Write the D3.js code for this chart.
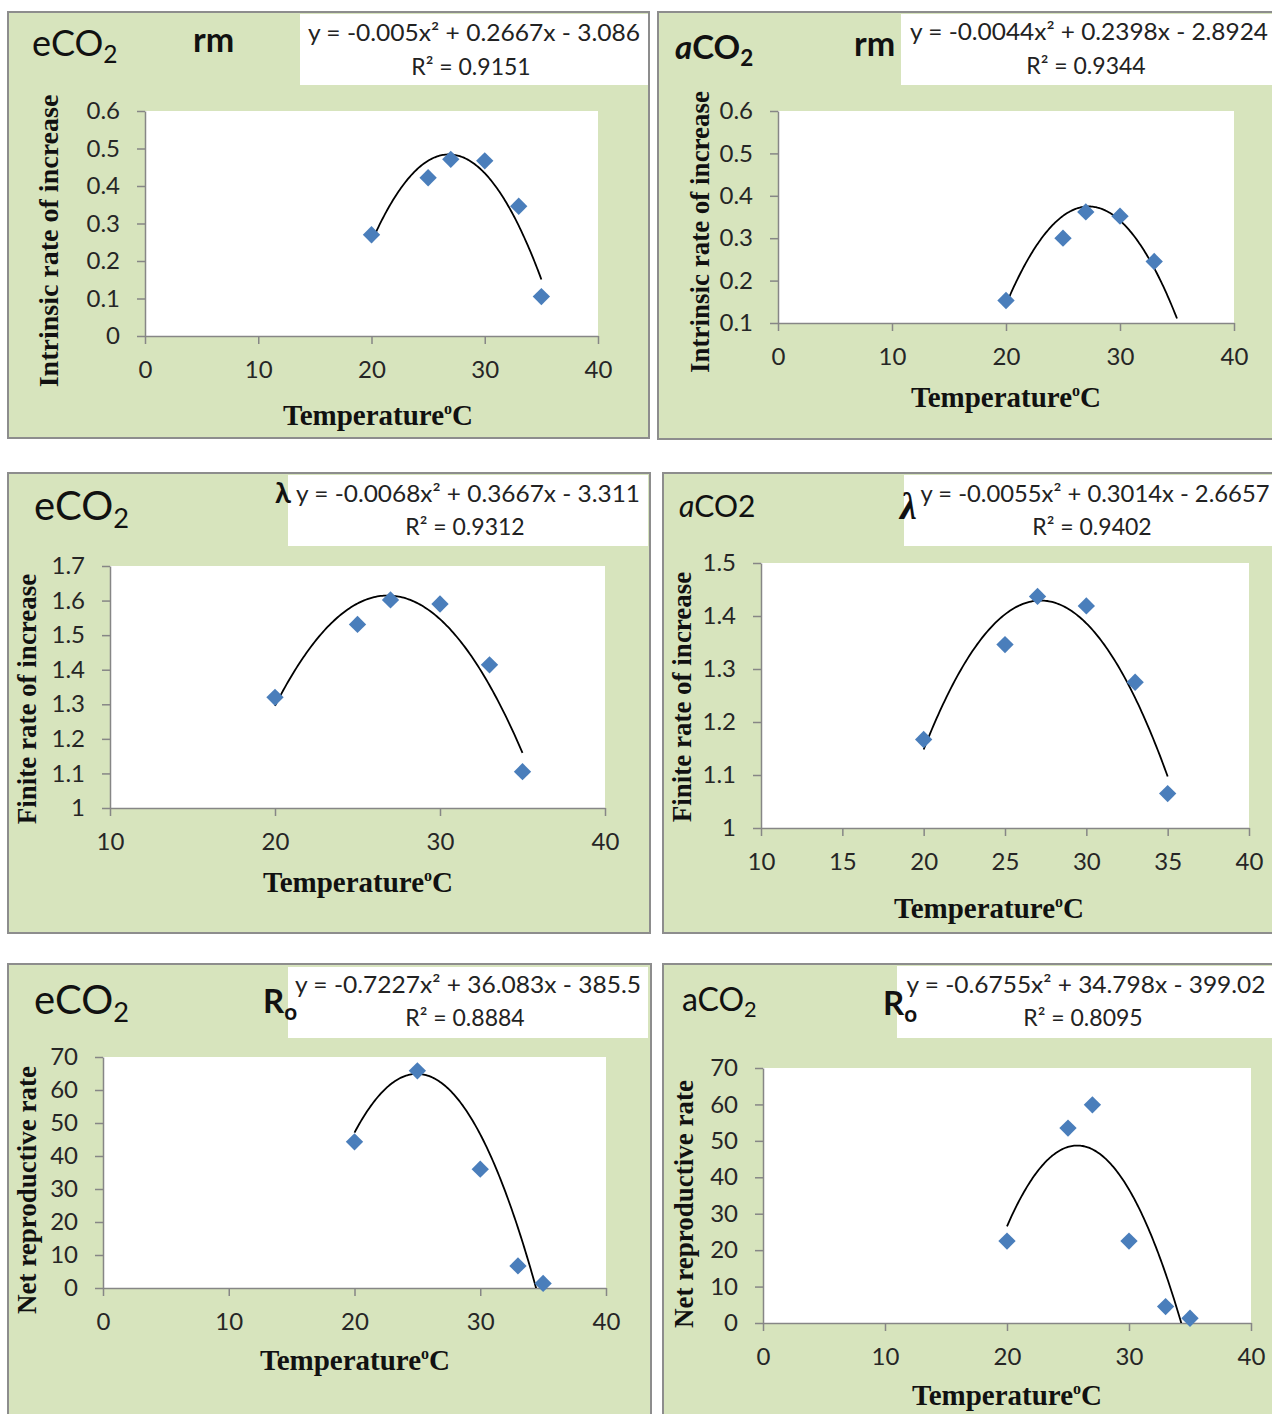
<!DOCTYPE html>
<html>
<head>
<meta charset="utf-8">
<script src="https://cdn.jsdelivr.net/npm/d3@7"></script>
<style>
	body { margin: 0; background: #fff; }
	svg { display: block; }
	.tick text { font-family: Lato, "Open Sans", sans-serif; font-size: 24px; fill: #262626; }
	.axis path, .axis line { stroke: #868686; stroke-width: 1.5; }
</style>
</head>
<body>
<svg id="fig" width="1272" height="1414"></svg>
<script>

// Temperatures (°C) at which each series was measured
const temperature = [20, 25, 27, 30, 33, 35];
const temperature_rm_aCO2 = [20, 25, 27, 30, 33];
const temperature_ro_eCO2 = [20, 25, 30, 33, 35];

const rm_eCO2 = [0.27, 0.422, 0.471, 0.467, 0.346, 0.105];
const rm_aCO2 = [0.153, 0.30, 0.362, 0.352, 0.245];
const lambda_eCO2 = [1.32, 1.531, 1.602, 1.59, 1.414, 1.105];
const lambda_aCO2 = [1.167, 1.346, 1.437, 1.419, 1.275, 1.065];
const ro_eCO2 = [44.3, 65.8, 36.0, 6.7, 1.4];
const ro_aCO2 = [22.5, 53.5, 59.9, 22.5, 4.5, 1.3];

// Polynomial trendlines as printed on the chart: [a, b, c] for ax² + bx + c
const trend_rm_eCO2 = [-0.005, 0.2667, -3.086];
const trend_rm_aCO2 = [-0.0044, 0.2398, -2.8924];
const trend_lambda_eCO2 = [-0.0068, 0.3667, -3.311];
const trend_lambda_aCO2 = [-0.0055, 0.3014, -2.6657];
const trend_ro_eCO2 = [-0.7227, 36.083, -385.5];
const trend_ro_aCO2 = [-0.6755, 34.798, -399.02];
const trend_range = [20, 35];

const r2_rm_eCO2 = "0.9151";
const r2_rm_aCO2 = "0.9344";
const r2_lambda_eCO2 = "0.9312";
const r2_lambda_aCO2 = "0.9402";
const r2_ro_eCO2 = "0.8884";
const r2_ro_aCO2 = "0.8095";

// Tick labels
const xTicks_0_40 = [0, 10, 20, 30, 40];
const xTicks_10_40 = [10, 20, 30, 40];
const xTicks_10_40_by5 = [10, 15, 20, 25, 30, 35, 40];
const yTicks_rm_eCO2 = [0, 0.1, 0.2, 0.3, 0.4, 0.5, 0.6];
const yTicks_rm_aCO2 = [0.1, 0.2, 0.3, 0.4, 0.5, 0.6];
const yTicks_lambda_eCO2 = [1, 1.1, 1.2, 1.3, 1.4, 1.5, 1.6, 1.7];
const yTicks_lambda_aCO2 = [1, 1.1, 1.2, 1.3, 1.4, 1.5];
const yTicks_ro = [0, 10, 20, 30, 40, 50, 60, 70];

const xTitle = "Temperature";
const yTitle_rm = "Intrinsic rate of increase";
const yTitle_lambda = "Finite rate of increase";
const yTitle_ro = "Net reproductive rate";


// layout of the six panels (pixel boxes measured on the reference)
// printedFit: draw the curve from the printed equation instead of refitting the
// visible points (those two fits used a sixth point that is not visible on the chart)
const panels = [
	{
		border: [8, 12, 641, 426], eqBox: [300, 14, 348, 71], eqX: 474, eqY: [41, 75], eqW: 332,
		plot: [145, 111, 598, 336], xTicks: xTicks_0_40, yTicks: yTicks_rm_eCO2,
		xs: temperature, ys: rm_eCO2, trend: trend_rm_eCO2, r2: r2_rm_eCO2,
		title: { x: 32, y: 56, size: 36, weight: 400, parts: [["e"], ["CO"], ["2", "sub"]] },
		mark: { x: 193, y: 52, size: 34, parts: [["rm"]] },
		yTitle: yTitle_rm, ySize: 28, yPos: [48, 241], xPos: [378, 425]
	},
	{
		border: [658, 12, 640, 427], eqBox: [901, 14, 380, 71], eqX: 1089, eqY: [40, 74], eqW: 358,
		plot: [778, 111, 1234, 323], xTicks: xTicks_0_40, yTicks: yTicks_rm_aCO2,
		xs: temperature_rm_aCO2, ys: rm_aCO2, trend: trend_rm_aCO2, r2: r2_rm_aCO2, printedFit: true,
		title: { x: 675, y: 59, size: 33, weight: 700, parts: [["a", "it"], ["CO"], ["2", "sub"]] },
		mark: { x: 854, y: 56, size: 34, parts: [["rm"]] },
		yTitle: yTitle_rm, ySize: 27, yPos: [700, 232], xPos: [1006, 407]
	},
	{
		border: [8, 473, 642, 460], eqBox: [288, 475, 360, 71], eqX: 468, eqY: [502, 535], eqW: 344,
		plot: [110, 566, 605, 808], xTicks: xTicks_10_40, yTicks: yTicks_lambda_eCO2,
		xs: temperature, ys: lambda_eCO2, trend: trend_lambda_eCO2, r2: r2_lambda_eCO2,
		title: { x: 34, y: 520, size: 40, weight: 400, parts: [["e"], ["CO"], ["2", "sub"]] },
		mark: { x: 275, y: 503, size: 29, parts: [["λ"]] },
		yTitle: yTitle_lambda, ySize: 27, yPos: [27, 699], xPos: [358, 892]
	},
	{
		border: [663, 473, 640, 460], eqBox: [904, 475, 376, 71], eqX: 1095, eqY: [502, 535], eqW: 349,
		plot: [761, 563, 1249, 828], xTicks: xTicks_10_40_by5, yTicks: yTicks_lambda_aCO2,
		xs: temperature, ys: lambda_aCO2, trend: trend_lambda_aCO2, r2: r2_lambda_aCO2,
		title: { x: 679, y: 517, size: 30, weight: 400, parts: [["a", "it"], ["CO2"]] },
		mark: { x: 900, y: 519, size: 38, parts: [["λ", "it"]] },
		yTitle: yTitle_lambda, ySize: 27, yPos: [682, 697], xPos: [989, 918]
	},
	{
		border: [8, 964, 643, 470], eqBox: [288, 967, 360, 71], eqX: 468, eqY: [993, 1026], eqW: 346,
		plot: [103, 1057, 606, 1288], xTicks: xTicks_0_40, yTicks: yTicks_ro,
		xs: temperature_ro_eCO2, ys: ro_eCO2, trend: trend_ro_eCO2, r2: r2_ro_eCO2, printedFit: true,
		title: { x: 34, y: 1014, size: 40, weight: 400, parts: [["e"], ["CO"], ["2", "sub"]] },
		mark: { x: 263, y: 1013, size: 33, parts: [["R"], ["o", "sub"]] },
		yTitle: yTitle_ro, ySize: 27, yPos: [27, 1190], xPos: [355, 1370]
	},
	{
		border: [663, 964, 640, 470], eqBox: [897, 966, 380, 72], eqX: 1086, eqY: [993, 1026], eqW: 359,
		plot: [763, 1068, 1251, 1323], xTicks: xTicks_0_40, yTicks: yTicks_ro,
		xs: temperature, ys: ro_aCO2, trend: trend_ro_aCO2, r2: r2_ro_aCO2,
		title: { x: 682, y: 1011, size: 32, weight: 400, parts: [["a"], ["CO"], ["2", "sub"]] },
		mark: { x: 883, y: 1015, size: 33, parts: [["R"], ["o", "sub"]] },
		yTitle: yTitle_ro, ySize: 27, yPos: [684, 1204], xPos: [1007, 1405]
	}
];

const svg = d3.select("#fig");
const sansFont = 'Lato, "Open Sans", sans-serif';
const serifFont = '"Liberation Serif", "Times New Roman", serif';

function equationText(c) {
	const [a, b, k] = c;
	return `y = ${a}x² + ${b}x ${k < 0 ? "-" : "+"} ${Math.abs(k)}`;
}

/*
	Least squares fit of y = a x² + b x + c (what the spreadsheet trendline does).
	Solves the 3x3 normal equations by Gaussian elimination, returns [a, b, c].
*/
function quadFit(xs, ys) {
	const S = [0, 0, 0, 0, 0];
	const T = [0, 0, 0];
	xs.forEach((xv, i) => {
		for (let k = 0; k < 5; k++) S[k] += Math.pow(xv, k);
		for (let k = 0; k < 3; k++) T[k] += ys[i] * Math.pow(xv, k);
	});
	const M = [
		[S[4], S[3], S[2], T[2]],
		[S[3], S[2], S[1], T[1]],
		[S[2], S[1], S[0], T[0]]
	];
	for (let col = 0; col < 3; col++) {
		for (let row = col + 1; row < 3; row++) {
			const f = M[row][col] / M[col][col];
			for (let k = col; k < 4; k++) M[row][k] -= f * M[col][k];
		}
	}
	const sol = [0, 0, 0];
	for (let row = 2; row >= 0; row--) {
		let s = M[row][3];
		for (let k = row + 1; k < 3; k++) s -= M[row][k] * sol[k];
		sol[row] = s / M[row][row];
	}
	return sol;
}

// text made of pieces, some in italic or as subscript
function richText(g, spec, weight, family) {
	const t = g.append("text")
		.attr("x", spec.x).attr("y", spec.y)
		.attr("font-family", family)
		.attr("font-size", spec.size)
		.attr("font-weight", weight)
		.attr("fill", "#111");
	spec.parts.forEach(([s, style]) => {
		const ts = t.append("tspan").text(s);
		if (style === "it") ts.attr("font-style", "italic");
		if (style === "sub") {
			ts.attr("font-size", spec.size * 0.68).attr("dy", spec.size * 0.2);
		}
	});
	return t;
}

panels.forEach((p, i) => {
	const g = svg.append("g");
	const [l, t, r, b] = p.plot;

	// chart area
	g.append("rect")
		.attr("x", p.border[0]).attr("y", p.border[1])
		.attr("width", p.border[2]).attr("height", p.border[3])
		.attr("fill", "#d7e4bd").attr("stroke", "#8d8d8d").attr("stroke-width", 2);

	g.append("rect")
		.attr("x", l).attr("y", t).attr("width", r - l).attr("height", b - t)
		.attr("fill", "#fff");

	const x = d3.scaleLinear().domain(d3.extent(p.xTicks)).range([l, r]);
	const y = d3.scaleLinear().domain(d3.extent(p.yTicks)).range([b, t]);

	g.append("g")
		.attr("class", "axis")
		.attr("transform", `translate(0,${b})`)
		.call(d3.axisBottom(x).tickValues(p.xTicks).tickSize(8).tickSizeOuter(0).tickPadding(17).tickFormat(String));

	g.append("g")
		.attr("class", "axis")
		.attr("transform", `translate(${l},0)`)
		.call(d3.axisLeft(y).tickValues(p.yTicks).tickSize(8).tickSizeOuter(0).tickPadding(17).tickFormat(String));

	// trendline, clipped to the plot area like Excel does
	const clipId = "clip" + i;
	g.append("clipPath").attr("id", clipId)
		.append("rect").attr("x", l).attr("y", t).attr("width", r - l).attr("height", b - t);

	const coef = p.printedFit ? p.trend : quadFit(p.xs, p.ys);
	const poly = xv => coef[0] * xv * xv + coef[1] * xv + coef[2];
	const line = d3.line().x(d => x(d)).y(d => y(poly(d)));
	g.append("path")
		.attr("clip-path", `url(#${clipId})`)
		.attr("d", line(d3.range(trend_range[0], trend_range[1] + 0.01, 0.1)))
		.attr("fill", "none").attr("stroke", "#000").attr("stroke-width", 1.8);

	// markers
	const diamond = d3.symbol().type(d3.symbolSquare).size(150);
	g.selectAll(".pt")
		.data(p.xs.map((xv, j) => [xv, p.ys[j]]))
		.join("path")
		.attr("class", "pt")
		.attr("d", diamond)
		.attr("transform", d => `translate(${x(d[0])},${y(d[1])}) rotate(45)`)
		.attr("fill", "#4a7ebb");

	// equation box
	g.append("rect")
		.attr("x", p.eqBox[0]).attr("y", p.eqBox[1])
		.attr("width", p.eqBox[2]).attr("height", p.eqBox[3])
		.attr("fill", "#fff");

	g.append("text")
		.attr("x", p.eqX).attr("y", p.eqY[0])
		.attr("text-anchor", "middle")
		.attr("font-family", sansFont).attr("font-size", 23).attr("fill", "#222")
		.attr("textLength", p.eqW).attr("lengthAdjust", "spacingAndGlyphs")
		.text(equationText(p.trend));

	g.append("text")
		.attr("x", p.eqX - 3).attr("y", p.eqY[1])
		.attr("text-anchor", "middle")
		.attr("font-family", sansFont).attr("font-size", 23).attr("fill", "#222")
		.text(`R² = ${p.r2}`);

	// panel labels
	richText(g, p.title, p.title.weight, sansFont);
	richText(g, p.mark, 700, i === 3 ? serifFont : sansFont);

	// axis titles
	g.append("text")
		.attr("transform", `translate(${p.yPos[0]},${p.yPos[1]}) rotate(-90)`)
		.attr("text-anchor", "middle").attr("dy", "0.35em")
		.attr("font-family", serifFont).attr("font-weight", 700).attr("font-size", p.ySize)
		.attr("fill", "#111")
		.text(p.yTitle);

	const xt = g.append("text")
		.attr("x", p.xPos[0]).attr("y", p.xPos[1])
		.attr("text-anchor", "middle")
		.attr("font-family", serifFont).attr("font-weight", 700).attr("font-size", 29)
		.attr("fill", "#111")
		.text(xTitle);
	xt.append("tspan").attr("font-size", 16).attr("dy", -11).text("o");
	xt.append("tspan").attr("dy", 11).text("C");
});

</script>
</body>
</html>
